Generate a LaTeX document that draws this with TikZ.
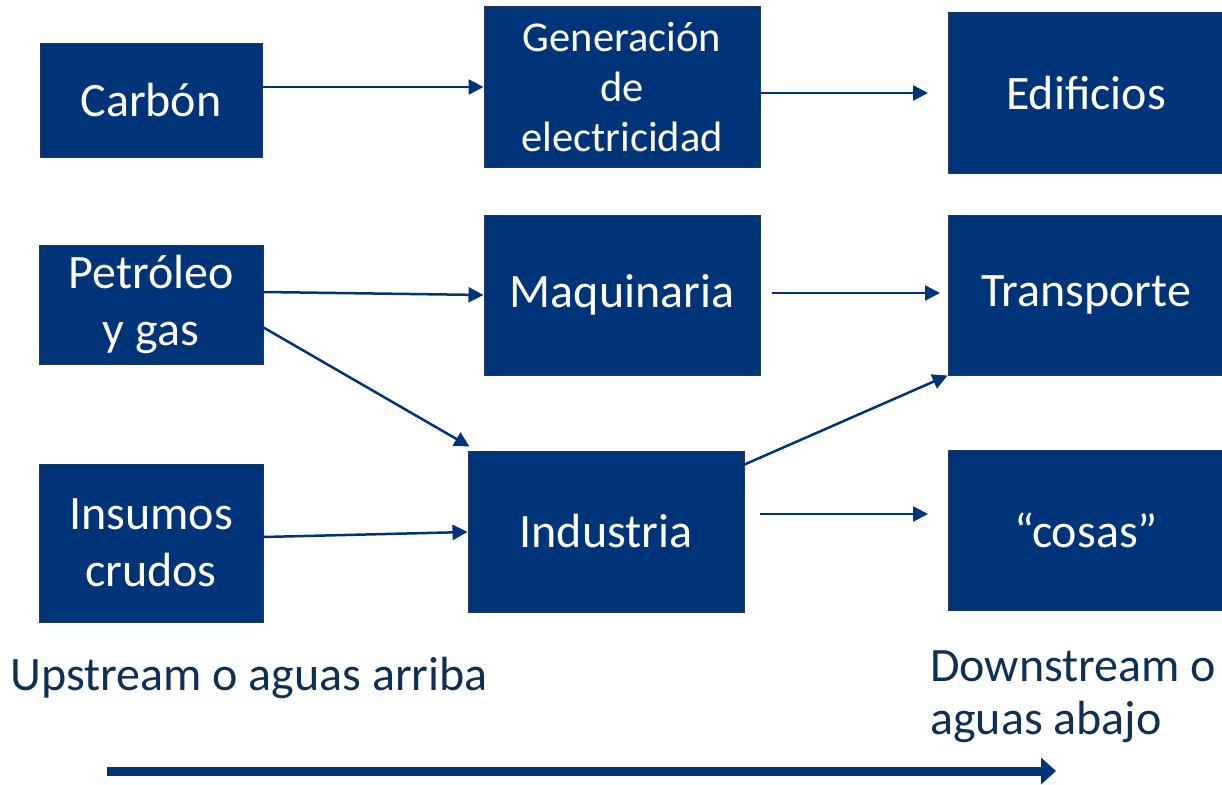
\documentclass[tikz,border=0pt]{standalone}
\usepackage{fontspec}
\setmainfont{Carlito}
\usetikzlibrary{arrows.meta}
\definecolor{boxblue}{HTML}{003478}
\definecolor{boxedge}{HTML}{1F3864}
\definecolor{labelblue}{HTML}{0E2F56}
\begin{document}
\begin{tikzpicture}[x=1pt,y=-1pt,
  blk/.style={fill=boxblue,draw=boxedge,line width=1pt,text=white,align=center,inner sep=0pt},
  big/.style={font=\fontsize{48}{57}\selectfont},
  conn/.style={draw=boxblue,line width=2.5pt,-{Triangle[length=15pt,width=15pt]}},
  lbl/.style={text=labelblue,font=\fontsize{48}{53}\selectfont,inner sep=0pt}]
\useasboundingbox (0,0) rectangle (1222,784);
\clip (0,0) rectangle (1222,784);
% boxes
\node[blk,big,minimum width=222pt,minimum height=113pt] (carbon) at (151,100.5) {Carbón};
\node[blk,minimum width=276pt,minimum height=160pt,font=\fontsize{42.5}{50}\selectfont] (gen) at (622,87) {Generación\\de\\electricidad};
\node[blk,big,minimum width=276pt,minimum height=160pt] (edif) at (1086,93) {Edificios};
\node[blk,big,minimum width=224pt,minimum height=119pt] (petro) at (151,304.5) {Petróleo\\y gas};
\node[blk,big,minimum width=276pt,minimum height=160pt] (maq) at (622,295) {Maquinaria};
\node[blk,big,minimum width=276pt,minimum height=160pt] (trans) at (1086,295) {Transporte};
\node[blk,big,minimum width=224pt,minimum height=158pt] (insu) at (151,543) {Insumos\\crudos};
\node[blk,big,minimum width=276pt,minimum height=161pt] (indu) at (606,531.5) {Industria};
\node[blk,big,minimum width=276pt,minimum height=160pt] (cosas) at (1086,530) {“cosas”};
% free ends
\coordinate (genout) at (760,93);
\coordinate (edifin) at (928,93);
\coordinate (maqout) at (772,293);
\coordinate (transin) at (940,293);
\coordinate (induout) at (760,514);
\coordinate (cosasin) at (928,514);
% connectors
\draw[conn] (carbon.east |- 0,87) -- (gen.west |- 0,87);
\draw[conn] (genout) -- (edifin);
\draw[conn] (petro.east |- 0,292) -- (maq.west |- 0,295);
\draw[conn] ([yshift=-23pt]petro.east) -- ([xshift=2pt,yshift=4pt]indu.north west);
\draw[conn] (maqout) -- (transin);
\draw[conn] (insu.east |- 0,537) -- (indu.west |- 0,532);
\draw[conn] ([yshift=-14pt]indu.north east) -- (trans.south west);
\draw[conn] (induout) -- (cosasin);
% bottom labels
\node[lbl,anchor=base west] (up) at (10,690) {Upstream o aguas arriba};
\node[lbl,anchor=base west,align=left] (down) at (930,734) {Downstream o\\aguas abajo};
\coordinate (ba) at (107,771);
\coordinate (bb) at (1056,771);
\draw[draw=boxblue,line width=9pt,-{Triangle[length=15pt,width=26pt]}] (ba) -- (bb);
\end{tikzpicture}
\end{document}
